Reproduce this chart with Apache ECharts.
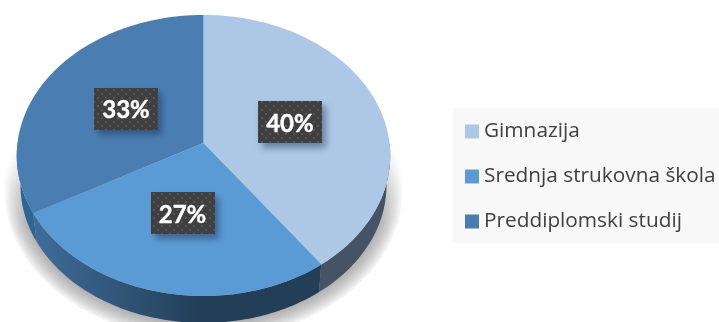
<!DOCTYPE html>
<html><head><meta charset="utf-8">
<style>html,body{margin:0;padding:0;background:#fff;overflow:hidden}#c{width:719px;height:322px}</style>
<script src="https://cdn.jsdelivr.net/npm/echarts@6/dist/echarts.min.js"></script>
</head><body><div id="c"></div>
<script>
const categories = ['Gimnazija', 'Srednja strukovna škola', 'Preddiplomski studij'];
const shares = [40, 27, 33];
const topColors = ['#ADC8E7', '#5B9BD5', '#4A7EB3'];
const wallLeft = ['#46566A', '#3F6E9C', '#2F6594'];
const wallRight = ['#465364', '#233F58', '#2F6090'];

const total = shares.reduce((a, b) => a + b, 0);
const CX = 203.5, CY = 143, RX = 186, RY = 139.4, K = 0.0889, DEPTH = 30, BASE = 0.98;

function project(theta, f, scale, dy) {
  const u = f * Math.sin(theta), t = -f * Math.cos(theta), d = 1 - K * t;
  return [CX + scale * RX * u / d, CY + dy + scale * RY * t / d];
}
function arc(a0, a1, scale, dy) {
  const pts = [], n = Math.max(2, Math.ceil((a1 - a0) / 0.02));
  for (let i = 0; i <= n; i++) pts.push(project(a0 + (a1 - a0) * i / n, 1, scale, dy));
  return pts;
}
const dotCanvas = document.createElement('canvas');
dotCanvas.width = dotCanvas.height = 8;
(function () {
  const g = dotCanvas.getContext('2d');
  g.fillStyle = '#3F3F3F'; g.fillRect(0, 0, 8, 8);
  g.fillStyle = '#565656'; g.fillRect(1, 1, 2, 2); g.fillRect(5, 5, 2, 2);
})();

function sliceRender(idx) {
  return function () {
    const before = shares.slice(0, idx).reduce((a, b) => a + b, 0);
    const a0 = before / total * 2 * Math.PI, a1 = (before + shares[idx]) / total * 2 * Math.PI;
    const top = arc(a0, a1, 1, 0);
    const w0 = Math.max(a0, Math.PI / 2), w1 = Math.min(a1, Math.PI * 1.5);
    const wall = arc(w0, w1, 1, 0).concat(arc(w0, w1, BASE, DEPTH).reverse());
    const mid = project((a0 + a1) / 2, 0.495, 1, 0);
    const W = 64, H = 42;
    const wallFill = { type: 'linear', global: true, x: 30, y: 0, x2: 200, y2: 0,
      colorStops: [{ offset: 0, color: wallLeft[idx] }, { offset: 1, color: wallRight[idx] }] };
    return { type: 'group', children: [
      { type: 'polygon', z2: 1, shape: { points: wall }, style: { fill: wallFill } },
      { type: 'polygon', z2: 2, shape: { points: [[CX, CY]].concat(top) }, style: { fill: topColors[idx] } },
      { type: 'rect', z2: 3, shape: { x: Math.round(mid[0] - W / 2), y: Math.round(mid[1] - H / 2), width: W, height: H },
        style: { fill: { image: dotCanvas, repeat: 'repeat' }, shadowBlur: 7, shadowOffsetX: 4, shadowOffsetY: 5, shadowColor: 'rgba(20,40,70,0.45)' } },
      { type: 'text', z2: 4, x: mid[0], y: mid[1] + 2, style: { text: shares[idx] + '%', fill: '#fff', stroke: '#fff', lineWidth: 0.4, font: 'bold 24px Lato', align: 'center', verticalAlign: 'middle' } }
    ] };
  };
}
function shadowRender() {
  const children = [];
  const fill = { type: 'linear', global: true, x: 0, y: 145, x2: 0, y2: 225,
    colorStops: [{ offset: 0, color: 'rgba(120,120,120,0)' }, { offset: 1, color: 'rgba(120,120,120,0.1)' }] };
  for (let i = 0; i < 8; i++) {
    const s = 1.065 - i * 0.012;
    children.push({ type: 'polygon', z2: 0, shape: { points: arc(0, 2 * Math.PI, s, 34 - i * 0.4) }, style: { fill } });
  }
  return { type: 'group', children };
}

const series = [{ type: 'custom', name: 'shadow', coordinateSystem: 'none', silent: true, z: 1, data: [1], renderItem: shadowRender }]
  .concat(categories.map((name, i) => ({
    type: 'custom', name, coordinateSystem: 'none', z: 2, silent: true,
    itemStyle: { color: topColors[i] }, data: [shares[i]], renderItem: sliceRender(i)
  })));

const chart = echarts.init(document.getElementById('c'), null, { renderer: 'canvas' });
chart.setOption({
  animation: false,
  backgroundColor: '#fff',
  legend: {
    data: categories, orient: 'vertical', left: 453, top: 108, icon: 'rect',
    itemWidth: 14, itemHeight: 14, itemGap: 24, selectedMode: false,
    padding: [13, 6, 11, 12], backgroundColor: '#F8F8F8',
    textStyle: { color: '#404040', fontSize: 20.8, fontFamily: 'Open Sans' }
  },
  series
});
</script></body></html>
